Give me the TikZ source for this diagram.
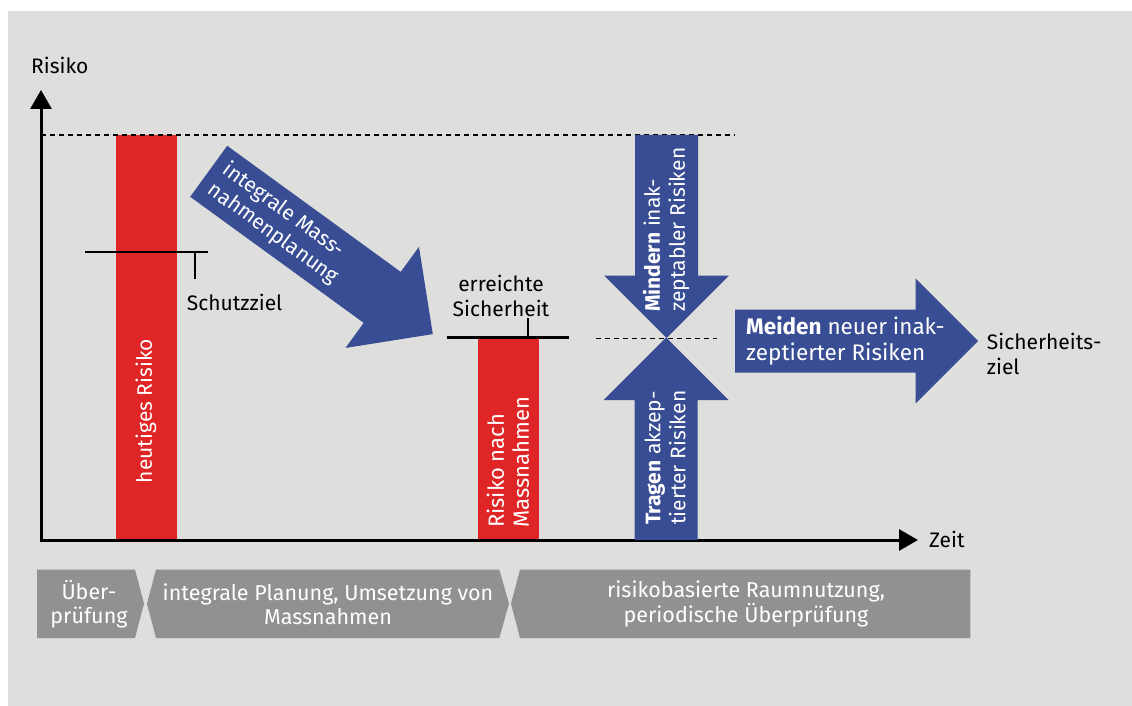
\documentclass[tikz,border=0pt]{standalone}
\usepackage{fontspec}
\setmainfont{Fira Sans}
\usetikzlibrary{arrows.meta}

\definecolor{panelgray}{HTML}{DEDEDD}
\definecolor{riskred}{HTML}{E02526}
\definecolor{arrowblue}{HTML}{384D93}
\definecolor{phasegray}{HTML}{92918F}

% tail x, tail y, direction, length
\newcommand{\blockarrow}[4]{%
  \begin{scope}[shift={(#1,#2)},rotate=#3]
    \fill[arrowblue] (0,-31.5) -- (#4-62.5,-31.5) -- (#4-62.5,-62.5) -- (#4,0)
      -- (#4-62.5,62.5) -- (#4-62.5,31.5) -- (0,31.5) -- cycle;
  \end{scope}}

\begin{document}
\begin{tikzpicture}[x=1pt,y=-1pt,
  txt/.style={font=\fontsize{21}{25}\selectfont,inner sep=0pt},
  bartxt/.style={txt,text=white,align=left,rotate=90,anchor=west},
  phasetxt/.style={txt,font=\fontsize{21.5}{24.5}\selectfont,text=white,align=center},
  axis/.style={line width=3pt,{Triangle[width=21pt,length=19pt]}-{Triangle[width=21pt,length=19pt]}},
  level/.style={line width=2.5pt},
  tick/.style={line width=1.2pt},
  limit/.style={line width=1.2pt,dash pattern=on 5pt off 4pt}]

\useasboundingbox (0,0) rectangle (1132,706);
\fill[white] (0,0) rectangle (1132,706);
\fill[panelgray] (8,11) rectangle (1132,706);

% risk bars
\fill[riskred] (116,135) rectangle (177,540);
\fill[riskred] (478,338) rectangle (538.7,540);
\node[txt,text=white,rotate=90] (heute) at (146,411) {heutiges Risiko};
\node[bartxt,font=\fontsize{22}{25}\selectfont] (nach) at (508,528) {Risiko nach\\Massnahmen};

% levels
\draw[limit] (41,135) -- (735,135);
\draw[limit] (596,338.5) -- (717,338.5);
\draw[level] (85,252) -- (208,252);
\draw[tick] (195,252) -- (195,279);
\draw[level] (446.7,337.7) -- (569,337.7);
\draw[tick] (528,318) -- (528,338);
\node[txt,anchor=base west] (schutz) at (186.7,310.7) {Schutzziel};
\node[txt,align=center] (erreicht) at (501,296) {erreichte\\Sicherheit};

% axes
\coordinate (O) at (41,540);
\coordinate (ytop) at (41,90);
\coordinate (xend) at (918,540);
\draw[axis] (ytop) -- (O) -- (xend);
\node[txt,anchor=base west] (risiko) at (31,73.3) {Risiko};
\node[txt,anchor=base west] (zeit) at (929,547.7) {Zeit};

% big arrows
\blockarrow{208.7}{171.3}{-36}{277}
\begin{scope}[shift={(208.7,171.3)},rotate=-36]
  \node[txt,text=white,align=left,anchor=west,transform shape] (plan) at (11,0) {integrale Mass-\\nahmenplanung};
\end{scope}
\blockarrow{666.5}{135}{-90}{203}
\blockarrow{666}{540}{90}{202.5}
\blockarrow{735}{341}{0}{243}
\node[bartxt] (mindern) at (666,312) {\textbf{Mindern} inak-\\zeptabler Risiken};
\node[bartxt] (tragen) at (665,525) {\textbf{Tragen} akzep-\\tierter Risiken};
\node[txt,font=\fontsize{22.5}{25.5}\selectfont,text=white,align=left,anchor=west] (meiden) at (746,341) {\textbf{Meiden} neuer inak-\\zeptierter Risiken};
\node[txt,align=left,anchor=west] (ziel) at (986.7,354) {Sicherheits-\\ziel};

% phases
\fill[phasegray] (37,569.5) -- (135,569.5) -- (144,603.7) -- (135,638) -- (37,638) -- cycle;
\fill[phasegray] (156,569.5) -- (499.3,569.5) -- (509,603.7) -- (499.3,638) -- (156,638) -- (147,603.7) -- cycle;
\fill[phasegray] (520,569.5) -- (970.3,569.5) -- (970.3,638) -- (520,638) -- (511,603.7) -- cycle;
\node[phasetxt] (pruef) at (89,604) {Über-\\prüfung};
\node[phasetxt] (umsetz) at (328,604) {integrale Planung, Umsetzung von\\Massnahmen};
\node[phasetxt] (nutzung) at (746,604) {risikobasierte Raumnutzung,\\periodische Überprüfung};
\end{tikzpicture}
\end{document}
